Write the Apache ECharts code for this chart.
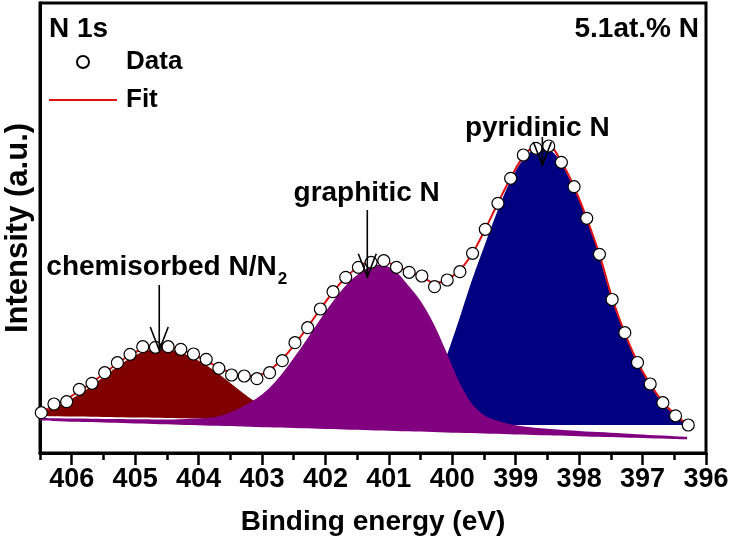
<!DOCTYPE html>
<html><head><meta charset="utf-8">
<script src="https://cdn.jsdelivr.net/npm/echarts@6/dist/echarts.min.js"></script>
<style>html,body{margin:0;padding:0;background:#fff}#c{width:730px;height:548px}</style>
</head><body><div id="c"></div>
<script>
// ---- data ----
const dataEnergy = [406.48,406.28,406.08,405.88,405.68,405.48,405.28,405.08,404.88,404.68,404.48,404.28,404.08,403.88,403.68,403.48,403.28,403.08,402.88,402.68,402.48,402.28,402.08,401.88,401.68,401.48,401.28,401.08,400.88,400.68,400.48,400.28,400.08,399.88,399.68,399.48,399.28,399.08,398.88,398.68,398.48,398.28,398.08,397.88,397.68,397.48,397.28,397.08,396.88,396.68,396.48,396.28];
const dataIntensity = [40.3,49,51.3,63.7,69.7,80.3,90.3,98.7,106.3,105.7,106.3,103.7,99,93.7,84.7,78,77,74.3,80.3,92.3,110.3,125.3,144,161.3,175.7,185.7,190.7,192.3,185.7,180.7,177,166.3,173,181.3,199.7,223.7,249.7,274.7,298,304.7,307,290.7,266.3,234.7,198.7,153.5,120.3,90.5,69,50.3,37.2,28];
const fitIntensity = [41,47,54,62,70.5,80,89.5,98,104,107,106.5,103.5,98.5,92,85.5,80,77,77.5,83,94,109,126,144,161,175.5,186,191,191,187,181,176.5,170,173.5,183,200,224,250,275,296,306,306,291,266,234.5,198.5,155,120,91,69,51,38,28];

const compEnergy = [406.5,406.3,406.1,405.9,405.7,405.5,405.3,405.1,404.9,404.7,404.5,404.3,404.1,403.9,403.7,403.5,403.3,403.1,402.9,402.7,402.5,402.3,402.1,401.9,401.7,401.5,401.3,401.1,400.9,400.7,400.5,400.3,400.1,399.9,399.7,399.5,399.3,399.1,398.9,398.7,398.5,398.3,398.1,397.9,397.7,397.5,397.3,397.1,396.9,396.7,396.5,396.3];

// chemisorbed N/N2 component (406.5 .. 401.9)
const wineEnergy = [406.5,406.3,406.1,405.9,405.7,405.5,405.3,405.1,404.9,404.7,404.5,404.3,404.1,403.9,403.7,403.5,403.3,403.1,402.9,402.7,402.5,402.3,402.1,401.9];
const wineTop  = [40.5,45,51,58,66.5,76,85.5,94,100.5,104,104,101,95.5,88.5,80,70,60,51,44,39,36,34.5,33.2,32.5];
const wineBase = [37,36.8,36.6,36.4,36.2,36,35.8,35.6,35.4,35.2,35,34.8,34.6,34.4,34.2,34,33.8,33.6,33.4,33.2,33,32.8,32.6,32.4];

// graphitic N component (full range)
const purpleTop = [35.0,34.8,34.6,34.4,34.2,34.0,33.9,33.8,33.7,33.6,33.6,33.8,34.3,35.0,36.5,40.5,46.5,54,64,78,95,113,132,150,166,178,186,188,182,168,152,130,102,72,50,38,32.5,29,26.7,25.3,24.2,23.3,22.4,21.6,20.9,20.2,19.5,18.8,18.1,17.4,16.8,16.2];
const purpleBase = [32.4,32.0,31.6,31.3,30.9,30.5,30.2,29.8,29.5,29.1,28.7,28.3,28.0,27.6,27.2,26.9,26.5,26.1,25.8,25.4,25.0,24.7,24.3,23.9,23.6,23.2,22.8,22.5,22.1,21.7,21.4,21.0,20.6,20.3,19.9,19.5,19.2,18.8,18.5,18.1,17.7,17.4,17.0,16.6,16.3,15.9,15.5,15.2,14.8,14.4,14.1,13.7];

// pyridinic N component (401.5 .. 396.3)
const navyEnergy = [401.5,401.3,401.1,400.9,400.7,400.5,400.3,400.1,399.9,399.7,399.5,399.3,399.1,398.9,398.7,398.5,398.3,398.1,397.9,397.7,397.5,397.3,397.1,396.9,396.7,396.5,396.3];
const navyTop  = [28,28.3,29,31,35,43,62,95,132,171,206,240,270,292,304,305,292,267,237,201,157,122,92,70,51,38,28.3];
const navyBase = [28,28,28,28,28,28,28,28,28,28,28,28,28,28,28,28,28,28,28,28,28,28,28,28,28,28,28];

const xTickValues = [396,397,398,399,400,401,402,403,404,405,406];

// annotations (data coordinates)
const annText  = ['chemisorbed N/N', 'graphitic N', 'pyridinic N'];
const annSub   = ['2', '', ''];
const annX     = [404.62, 401.34, 398.58];
const annStart = [168, 243, 316];
const annTip   = [103, 176.3, 288];
const annLabelX = [404.49, 401.35, 398.66];
const annLabelY = [186, 260, 325];

// ---- chart ----
const FONT = 'Liberation Sans, Arial, sans-serif';
const chart = echarts.init(document.getElementById('c'), null, {renderer: 'canvas'});

function pairs(xs, ys) { return xs.map((x, i) => [x, ys[i]]); }

// Catmull-Rom spline through pixel points -> SVG path commands (rendering only)
function splinePath(pts, start) {
  let d = (start ? 'M' : 'L') + pts[0][0].toFixed(2) + ',' + pts[0][1].toFixed(2);
  for (let i = 0; i < pts.length - 1; i++) {
    const p0 = pts[Math.max(i - 1, 0)], p1 = pts[i], p2 = pts[i + 1], p3 = pts[Math.min(i + 2, pts.length - 1)];
    const c1x = p1[0] + (p2[0] - p0[0]) / 6, c1y = p1[1] + (p2[1] - p0[1]) / 6;
    const c2x = p2[0] - (p3[0] - p1[0]) / 6, c2y = p2[1] - (p3[1] - p1[1]) / 6;
    d += ' C' + c1x.toFixed(2) + ',' + c1y.toFixed(2) + ' ' + c2x.toFixed(2) + ',' + c2y.toFixed(2) + ' ' + p2[0].toFixed(2) + ',' + p2[1].toFixed(2);
  }
  return d;
}

function component(name, xs, top, base, color) {
  return {
    name: name, type: 'custom', silent: true, z: 2, clip: true,
    data: xs.map((x, i) => [x, top[i], base[i]]),
    encode: {x: 0, y: [1, 2]},
    renderItem: function (params, api) {
      if (params.dataIndex !== 0) return null;
      const upper = xs.map((x, i) => api.coord([x, top[i]]));
      const lower = xs.map((x, i) => api.coord([x, base[i]])).reverse();
      const d = splinePath(upper, true) + ' ' + splinePath(lower, false) + ' Z';
      return {type: 'path', shape: {pathData: d}, style: {fill: color, stroke: null}};
    }
  };
}

const option = {
  animation: false,
  backgroundColor: '#fff',
  grid: {left: 40, right: 24, top: 3, bottom: 95, show: true, borderColor: '#000', borderWidth: 3,
         backgroundColor: 'transparent', outerBoundsMode: 'none', containLabel: false},
  title: [
    {text: 'N 1s', left: 49, top: 15, padding: 0, textStyle: {fontFamily: FONT, fontWeight: 'bold', fontSize: 28, color: '#000'}},
    {text: '5.1at.% N', right: 31, top: 15, padding: 0, textStyle: {fontFamily: FONT, fontWeight: 'bold', fontSize: 28, color: '#000'}}
  ],
  legend: {
    orient: 'vertical', left: 48, top: 48, itemWidth: 68, itemHeight: 12, itemGap: 10,
    padding: 0,
    data: ['Data', {name: 'Fit', itemStyle: {opacity: 0}}],
    textStyle: {fontFamily: FONT, fontWeight: 'bold', fontSize: 26, color: '#000', lineHeight: 28, padding: [0, 0, 0, 4]}
  },
  xAxis: [
    {type: 'value', inverse: true, min: 396, max: 406.5, position: 'bottom',
     axisLine: {show: true, onZero: false, lineStyle: {color: '#000', width: 3}},
     axisTick: {show: true, inside: false, length: 12, customValues: xTickValues, lineStyle: {color: '#000', width: 2.5}},
     axisLabel: {show: true, customValues: xTickValues, margin: 13, fontFamily: FONT, fontWeight: 'bold', fontSize: 27, color: '#000'},
     splitLine: {show: false},
     name: 'Binding energy (eV)', nameLocation: 'middle', nameGap: 55,
     nameTextStyle: {fontFamily: FONT, fontWeight: 'bold', fontSize: 28, color: '#000'}},
    {type: 'value', inverse: true, min: 396, max: 406.5, interval: 0.5, position: 'bottom',
     axisLine: {show: false, onZero: false},
     axisTick: {show: true, inside: false, length: 7, lineStyle: {color: '#000', width: 2.5}},
     axisLabel: {show: false}, splitLine: {show: false}}
  ],
  yAxis: {type: 'value', min: 0, max: 450,
    axisLine: {show: true, onZero: false, lineStyle: {color: '#000', width: 3}},
    axisTick: {show: false}, axisLabel: {show: false}, splitLine: {show: false},
    name: 'Intensity (a.u.)', nameLocation: 'middle', nameGap: 6,
    nameTextStyle: {fontFamily: FONT, fontWeight: 'bold', fontSize: 31, color: '#000'}},
  series: [
    component('wine', wineEnergy, wineTop, wineBase, '#800000'),
    component('navy', navyEnergy, navyTop, navyBase, '#000080'),
    component('purple', compEnergy, purpleTop, purpleBase, '#800080'),
    {name: 'Fit', type: 'line', data: pairs(dataEnergy, fitIntensity), symbol: 'none', smooth: 0.4,
     lineStyle: {color: '#e01010', width: 2}, itemStyle: {color: '#e01010'}, z: 5},
    {name: 'Data', type: 'scatter', data: pairs(dataEnergy, dataIntensity), symbol: 'circle', symbolSize: 12,
     itemStyle: {color: '#fff', borderColor: '#000', borderWidth: 1.2, opacity: 1}, z: 6}
  ]
};
chart.setOption(option);

// annotations: arrows + labels, positioned through the axes
const ctx = document.createElement('canvas').getContext('2d');
ctx.font = 'bold 28px ' + FONT;
const g = [];
for (let i = 0; i < annText.length; i++) {
  const p0 = chart.convertToPixel({xAxisIndex: 0, yAxisIndex: 0}, [annX[i], annStart[i]]);
  const p1 = chart.convertToPixel({xAxisIndex: 0, yAxisIndex: 0}, [annX[i], annTip[i]]);
  const lp = chart.convertToPixel({xAxisIndex: 0, yAxisIndex: 0}, [annLabelX[i], annLabelY[i]]);
  g.push({type: 'line', shape: {x1: p0[0], y1: p0[1], x2: p1[0], y2: p1[1]}, style: {stroke: '#000', lineWidth: 1.6}, z: 100});
  g.push({type: 'polyline', shape: {points: [[p1[0] - 9, p1[1] - 23], [p1[0], p1[1]], [p1[0] + 9, p1[1] - 23]]}, style: {stroke: '#000', lineWidth: 1.6, fill: null}, z: 100});
  const w = ctx.measureText(annText[i]).width;
  const subW = annSub[i] ? 12 : 0;
  const left = lp[0] - (w + subW) / 2;
  g.push({type: 'text', x: left, y: lp[1], style: {text: annText[i], fill: '#000', font: 'bold 28px ' + FONT, textAlign: 'left', textVerticalAlign: 'middle'}, z: 100});
  if (annSub[i]) {
    g.push({type: 'text', x: left + w + 1, y: lp[1] + 12, style: {text: annSub[i], fill: '#000', font: 'bold 17px ' + FONT, textAlign: 'left', textVerticalAlign: 'middle'}, z: 100});
  }
}
chart.setOption({graphic: {elements: g}});
</script>
</body></html>
